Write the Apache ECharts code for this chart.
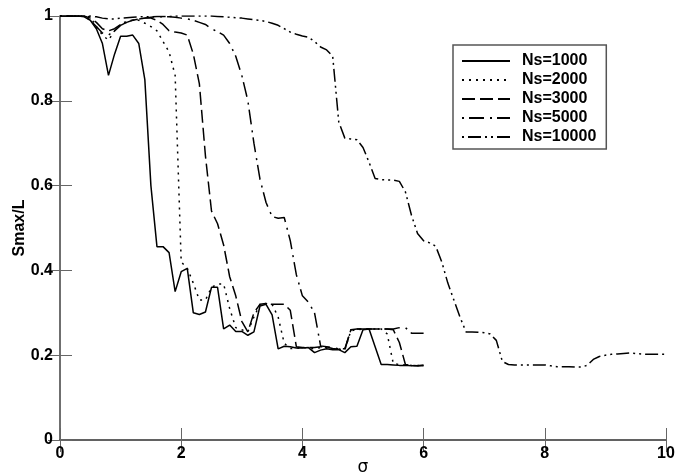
<!DOCTYPE html>
<html>
<head>
<meta charset="utf-8">
<script src="https://cdn.jsdelivr.net/npm/echarts@6/dist/echarts.min.js"></script>
<style>html,body{margin:0;padding:0;background:#fff}#c{width:677px;height:475px}</style>
</head>
<body>
<div id="c"></div>
<script>
// sigma grid for Ns=1000..5000 (0 .. 6, step 0.1)
const sigmaA = [0.0,0.1,0.2,0.3,0.4,0.5,0.6,0.7,0.8,0.9,1.0,1.1,1.2,1.3,1.4,1.5,1.6,1.7,1.8,1.9,2.0,2.1,2.2,2.3,2.4,2.5,2.6,2.7,2.8,2.9,3.0,3.1,3.2,3.3,3.4,3.5,3.6,3.7,3.8,3.9,4.0,4.1,4.2,4.3,4.4,4.5,4.6,4.7,4.8,4.9,5.0,5.1,5.2,5.3,5.4,5.5,5.6,5.7,5.8,5.9,6.0];
// sigma grid for Ns=10000 (0 .. 10, step 0.1)
const sigmaB = [0.0,0.1,0.2,0.3,0.4,0.5,0.6,0.7,0.8,0.9,1.0,1.1,1.2,1.3,1.4,1.5,1.6,1.7,1.8,1.9,2.0,2.1,2.2,2.3,2.4,2.5,2.6,2.7,2.8,2.9,3.0,3.1,3.2,3.3,3.4,3.5,3.6,3.7,3.8,3.9,4.0,4.1,4.2,4.3,4.4,4.5,4.6,4.7,4.8,4.9,5.0,5.1,5.2,5.3,5.4,5.5,5.6,5.7,5.8,5.9,6.0,6.1,6.2,6.3,6.4,6.5,6.6,6.7,6.8,6.9,7.0,7.1,7.2,7.3,7.4,7.5,7.6,7.7,7.8,7.9,8.0,8.1,8.2,8.3,8.4,8.5,8.6,8.7,8.8,8.9,9.0,9.1,9.2,9.3,9.4,9.5,9.6,9.7,9.8,9.9,10.0];

const ns1000 = [1.0,1.0,1.0,1.0,0.998,0.99,0.97,0.935,0.86,0.91,0.952,0.952,0.955,0.935,0.85,0.6,0.456,0.456,0.442,0.35,0.397,0.405,0.30,0.296,0.302,0.36,0.36,0.262,0.271,0.256,0.256,0.247,0.255,0.316,0.32,0.295,0.215,0.221,0.22,0.217,0.217,0.218,0.206,0.212,0.215,0.213,0.213,0.206,0.22,0.221,0.26,0.262,0.22,0.178,0.178,0.177,0.176,0.176,0.175,0.175,0.177];
const ns2000 = [1.0,1.0,1.0,1.0,1.0,0.998,0.975,0.955,0.943,0.965,0.98,0.988,0.99,0.99,0.983,0.975,0.965,0.94,0.915,0.86,0.42,0.405,0.37,0.33,0.33,0.36,0.368,0.368,0.31,0.265,0.26,0.255,0.29,0.32,0.322,0.32,0.29,0.228,0.216,0.216,0.218,0.217,0.215,0.218,0.218,0.215,0.214,0.212,0.258,0.26,0.262,0.262,0.262,0.262,0.25,0.18,0.178,0.177,0.176,0.176,0.176];
const ns3000 = [1.0,1.0,1.0,1.0,1.0,0.995,0.985,0.97,0.965,0.97,0.98,0.985,0.99,0.993,0.995,0.995,0.99,0.98,0.965,0.962,0.96,0.955,0.91,0.84,0.67,0.54,0.51,0.46,0.385,0.34,0.28,0.255,0.30,0.32,0.322,0.32,0.32,0.32,0.306,0.22,0.218,0.218,0.218,0.22,0.219,0.216,0.214,0.213,0.26,0.262,0.262,0.262,0.262,0.262,0.262,0.26,0.23,0.178,0.176,0.175,0.175];
const ns5000 = [1.0,1.0,1.0,1.0,1.0,0.99,0.975,0.96,0.955,0.965,0.978,0.985,0.99,0.993,0.995,0.997,0.998,0.998,0.998,0.997,0.995,0.993,0.99,0.985,0.98,0.97,0.963,0.955,0.935,0.905,0.86,0.80,0.70,0.615,0.56,0.527,0.523,0.525,0.47,0.39,0.34,0.325,0.30,0.222,0.22,0.218,0.215,0.215,0.26,0.262,0.262,0.262,0.262,0.262,0.262,0.262,0.265,0.265,0.252,0.252,0.252];
const ns10000 = [1.0,1.0,1.0,1.0,1.0,1.0,0.998,0.995,0.993,0.993,0.995,0.996,0.997,0.998,0.998,0.998,0.999,0.999,0.999,1.0,1.0,1.0,1.0,1.0,1.0,1.0,0.999,0.998,0.997,0.996,0.995,0.993,0.991,0.99,0.987,0.983,0.978,0.97,0.962,0.957,0.953,0.95,0.94,0.927,0.92,0.905,0.75,0.712,0.71,0.708,0.69,0.655,0.617,0.614,0.613,0.613,0.61,0.585,0.53,0.487,0.47,0.465,0.457,0.42,0.37,0.33,0.29,0.255,0.255,0.254,0.253,0.25,0.235,0.185,0.178,0.177,0.177,0.177,0.177,0.177,0.177,0.175,0.173,0.173,0.173,0.172,0.172,0.176,0.19,0.197,0.2,0.202,0.203,0.204,0.205,0.204,0.203,0.202,0.202,0.202,0.202];

const seriesNames = ['Ns=1000','Ns=2000','Ns=3000','Ns=5000','Ns=10000'];
const xTicks = [0,2,4,6,8,10];
const yTicks = [0,0.2,0.4,0.6,0.8,1];

const dashes = ['solid',[2,5],[13,5],[2,5,15,6],[2,4,13,4,2,4]];
const seriesData = [[sigmaA,ns1000],[sigmaA,ns2000],[sigmaA,ns3000],[sigmaA,ns5000],[sigmaB,ns10000]];

const chart = echarts.init(document.getElementById('c'), null, {renderer:'canvas'});
const frame = '#666';
const lblFont = {fontFamily:'"Liberation Sans", Arial, sans-serif', fontWeight:'bold', fontSize:16, color:'#000'};

chart.setOption({
  animation:false,
  backgroundColor:'#fff',
  grid:{left:60, right:11, top:16, bottom:35, containLabel:false, outerBoundsMode:'none'},
  legend:{
    orient:'vertical', left:453, top:45,
    padding:[8,10,4,8], itemWidth:48, itemHeight:14, itemGap:3,
    borderColor:'#555', borderWidth:1.5, backgroundColor:'#fff',
    itemStyle:{opacity:0},
    textStyle:{fontFamily:'"Liberation Sans", Arial, sans-serif', fontWeight:'bold', fontSize:16, color:'#000', padding:[0,0,0,7]},
    data:seriesNames
  },
  xAxis:[{
    type:'value', min:xTicks[0], max:xTicks[xTicks.length-1], interval:2,
    name:'σ', nameLocation:'middle', nameGap:19, nameMoveOverlap:false,
    nameTextStyle:{fontFamily:'"DejaVu Sans", sans-serif', fontSize:17, color:'#000'},
    axisLine:{lineStyle:{color:'#222', width:1.5}},
    axisTick:{inside:true, length:12, lineStyle:{color:frame, width:1}},
    axisLabel:Object.assign({margin:6}, lblFont),
    splitLine:{show:false}
  },{
    type:'value', position:'top', min:xTicks[0], max:xTicks[xTicks.length-1], interval:2,
    axisLine:{lineStyle:{color:frame, width:1.5}},
    axisTick:{inside:true, length:12, lineStyle:{color:frame, width:1}},
    axisLabel:{show:false}, splitLine:{show:false}
  }],
  yAxis:[{
    type:'value', min:yTicks[0], max:yTicks[yTicks.length-1], interval:0.2,
    name:'Smax/L', nameLocation:'middle', nameGap:32, nameRotate:90, nameMoveOverlap:false,
    nameTextStyle:{fontFamily:'"Liberation Sans", Arial, sans-serif', fontWeight:'bold', fontSize:16, color:'#000'},
    axisLine:{show:true, lineStyle:{color:frame, width:1.5}},
    axisTick:{show:true, inside:true, length:12, lineStyle:{color:frame, width:1}},
    axisLabel:Object.assign({margin:7}, lblFont),
    splitLine:{show:false}
  },{
    type:'value', position:'right', min:yTicks[0], max:yTicks[yTicks.length-1], interval:0.2,
    axisLine:{show:true, lineStyle:{color:frame, width:1.5}},
    axisTick:{show:true, inside:true, length:12, lineStyle:{color:frame, width:1}},
    axisLabel:{show:false}, splitLine:{show:false}
  }],
  series: seriesNames.map((n,i)=>({
    name:n, type:'line', xAxisIndex:0, yAxisIndex:0,
    data: seriesData[i][0].map((x,k)=>[x, seriesData[i][1][k]]),
    symbol:'none', showSymbol:false,
    lineStyle:{color:'#000', width:1.5, type:dashes[i]},
    itemStyle:{color:'#000'},
    z: 5-i
  }))
});
</script>
</body>
</html>
